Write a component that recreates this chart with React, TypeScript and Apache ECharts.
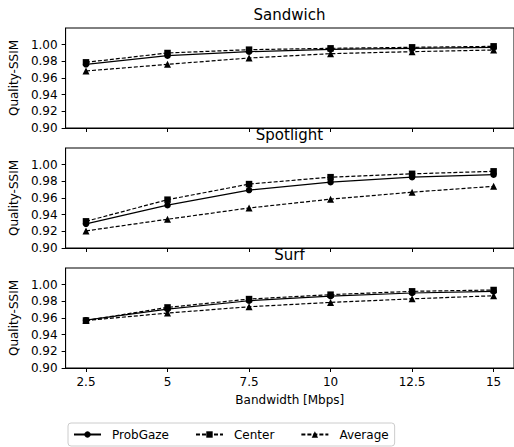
import React, { useEffect, useRef } from "react";
import * as echarts from "echarts";

const bandwidths = [2.5, 5, 7.5, 10, 12.5, 15];
const tickLabels = ["2.5", "5", "7.5", "10", "12.5", "15"];
const yTicks = [0.9, 0.92, 0.94, 0.96, 0.98, 1.0];
const panelTitles = ["Sandwich", "Spotlight", "Surf"];
const methodNames = ["ProbGaze", "Center", "Average"];

const sandwichProbGaze = [0.9764, 0.9868, 0.9916, 0.9944, 0.9956, 0.9968];
const sandwichCenter = [0.9788, 0.99, 0.994, 0.9956, 0.9968, 0.998];
const sandwichAverage = [0.9684, 0.9764, 0.984, 0.9892, 0.9916, 0.9936];

const spotlightProbGaze = [0.929, 0.9514, 0.9695, 0.979, 0.985, 0.988];
const spotlightCenter = [0.932, 0.958, 0.9767, 0.985, 0.989, 0.992];
const spotlightAverage = [0.9205, 0.9345, 0.948, 0.9586, 0.967, 0.974];

const surfProbGaze = [0.9574, 0.9707, 0.9807, 0.9863, 0.99, 0.992];
const surfCenter = [0.957, 0.9727, 0.9827, 0.988, 0.992, 0.9936];
const surfAverage = [0.957, 0.9659, 0.9735, 0.9787, 0.983, 0.9867];

const panels = [
  [sandwichProbGaze, sandwichCenter, sandwichAverage],
  [spotlightProbGaze, spotlightCenter, spotlightAverage],
  [surfProbGaze, surfCenter, surfAverage],
];

const FONT = "DejaVu Sans";

export default function App() {
  const ref = useRef<HTMLDivElement>(null);
  useEffect(() => {
    if (!ref.current) return;
    const chart = echarts.init(ref.current, null, { renderer: "svg" });
    const gridTops = [28, 148, 268];
    const gridLeft = 62;
    const gridWidth = 455;
    const gridHeight = 100;

    const grids = gridTops.map((t) => ({
      left: gridLeft,
      top: t,
      width: gridWidth,
      height: gridHeight,
      show: true,
      borderColor: "#000",
      borderWidth: 1,
      backgroundColor: "transparent",
    }));

    const xAxes = gridTops.map((_, i) => ({
      type: "value",
      gridIndex: i,
      min: 1.875,
      max: 15.625,
      splitLine: { show: false },
      axisLine: { show: true, lineStyle: { color: "#000", width: 1 } },
      axisTick: {
        show: true,
        length: 4,
        lineStyle: { color: "#000" },
        customValues: bandwidths,
      },
      axisLabel: {
        show: i === 2,
        margin: 8,
        color: "#000",
        fontFamily: FONT,
        fontSize: 12,
        customValues: bandwidths,
        formatter: (v: number) => {
          const idx = bandwidths.indexOf(v);
          return idx >= 0 ? tickLabels[idx] : "";
        },
      },
      name: i === 2 ? "Bandwidth [Mbps]" : "",
      nameLocation: "middle",
      nameGap: 26,
      nameTextStyle: { color: "#000", fontFamily: FONT, fontSize: 12 },
    }));

    const yAxes = gridTops.map((_, i) => ({
      type: "value",
      gridIndex: i,
      min: 0.9,
      max: 1.02,
      splitLine: { show: false },
      axisLine: { show: true, lineStyle: { color: "#000", width: 1 } },
      axisTick: {
        show: true,
        length: 4,
        lineStyle: { color: "#000" },
        customValues: yTicks,
      },
      axisLabel: {
        color: "#000",
        fontFamily: FONT,
        fontSize: 12,
        margin: 8,
        customValues: yTicks,
        formatter: (v: number) => v.toFixed(2),
      },
      name: "Quality-SSIM",
      nameLocation: "middle",
      nameRotate: 90,
      nameGap: 44,
      nameTextStyle: { color: "#000", fontFamily: FONT, fontSize: 12 },
    }));

    const symbols = ["circle", "rect", "triangle"];
    const symbolSizes = [6.5, 6.5, 7];
    const lineTypes: any[] = ["solid", [4, 2], [4, 2]];

    const series: any[] = [];
    panels.forEach((panel, pi) => {
      panel.forEach((vals, mi) => {
        series.push({
          type: "line",
          name: methodNames[mi],
          xAxisIndex: pi,
          yAxisIndex: pi,
          data: bandwidths.map((b, k) => [b, vals[k]]),
          symbol: symbols[mi],
          symbolSize: symbolSizes[mi],
          showSymbol: true,
          itemStyle: { color: "#000" },
          lineStyle: { color: "#000", width: 1.2, type: lineTypes[mi] },
          z: 3 - mi,
        });
      });
    });

    const titleYs = [15, 135, 255];
    const graphic = panelTitles.map((t, i) => ({
      type: "text",
      x: gridLeft + gridWidth / 2,
      y: titleYs[i],
      style: {
        text: t,
        textAlign: "center",
        textVerticalAlign: "middle",
        fontFamily: FONT,
        fontSize: 15,
        fill: "#000",
      },
    }));

    chart.setOption({
      animation: false,
      backgroundColor: "#fff",
      grid: grids,
      xAxis: xAxes,
      yAxis: yAxes,
      series,
      graphic,
      legend: {
        data: methodNames,
        left: 68,
        top: 423,
        orient: "horizontal",
        itemWidth: 27,
        itemHeight: 8,
        itemGap: 26,
        padding: [4.5, 6, 4.5, 5],
        borderColor: "#ccc",
        borderWidth: 1,
        borderRadius: 3,
        textStyle: {
          color: "#000",
          fontFamily: FONT,
          fontSize: 12,
          lineHeight: 14,
          padding: [0, 0, 0, 6],
        },
      },
    });
    return () => chart.dispose();
  }, []);
  return (
    <div
      ref={ref}
      style={{ position: "absolute", left: 0, top: 0, width: 514, height: 447 }}
    />
  );
}
